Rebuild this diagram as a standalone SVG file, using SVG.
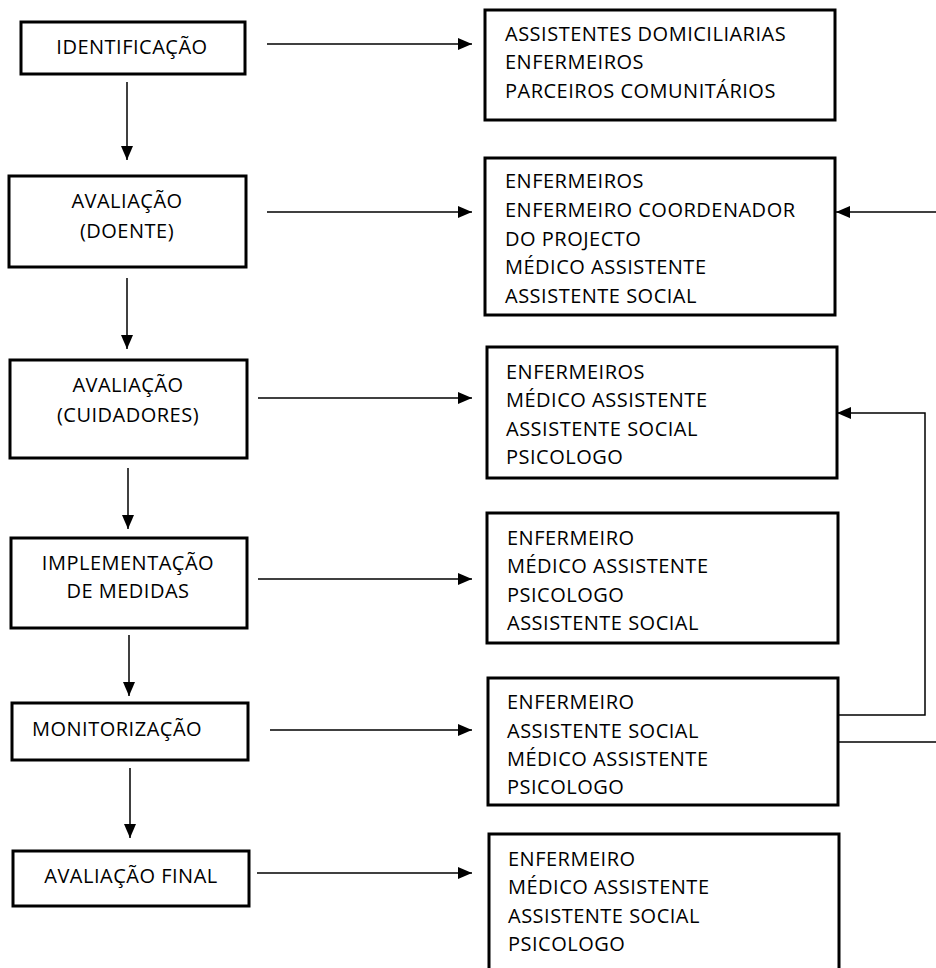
<svg xmlns="http://www.w3.org/2000/svg" width="936" height="968" viewBox="0 0 936 968">
<defs>
<marker id="ah" markerUnits="userSpaceOnUse" markerWidth="14" markerHeight="12" viewBox="0 0 14 12" refX="14" refY="6" orient="auto">
<path d="M0,0 L14,6 L0,12 Z" fill="#000"/>
</marker>
<style>
.box{fill:#fff;stroke:#000;stroke-width:3}
.t{font-family:"Open Sans",Lato,"Liberation Sans",sans-serif;font-size:20px;letter-spacing:0.5px;fill:#000}
.c{text-anchor:middle}
.con{fill:none;stroke:#000;stroke-width:1.5}
</style>
</defs>
<rect width="936" height="968" fill="#fff"/>

<g id="identificacao">
<rect class="box" x="21" y="22" width="224" height="52"/>
<text class="t c" x="132" y="54">IDENTIFICAÇÃO</text>
</g>
<g id="avaliacao-doente">
<rect class="box" x="9" y="176" width="237" height="91"/>
<text class="t c" x="127" y="208">AVALIAÇÃO</text>
<text class="t c" x="127" y="238">(DOENTE)</text>
</g>
<g id="avaliacao-cuidadores">
<rect class="box" x="10" y="360" width="237" height="98"/>
<text class="t c" x="128" y="392">AVALIAÇÃO</text>
<text class="t c" x="128" y="422">(CUIDADORES)</text>
</g>
<g id="implementacao">
<rect class="box" x="11" y="538" width="236" height="90"/>
<text class="t c" x="128" y="570">IMPLEMENTAÇÃO</text>
<text class="t c" x="128" y="598">DE MEDIDAS</text>
</g>
<g id="monitorizacao">
<rect class="box" x="12" y="703" width="236" height="57"/>
<text class="t" x="32" y="736">MONITORIZAÇÃO</text>
</g>
<g id="avaliacao-final">
<rect class="box" x="13" y="851" width="236" height="55"/>
<text class="t c" x="131" y="883">AVALIAÇÃO FINAL</text>
</g>

<g id="r1">
<rect class="box" x="485" y="10" width="350" height="110"/>
<text class="t" x="505" y="41">ASSISTENTES DOMICILIARIAS</text>
<text class="t" x="505" y="69">ENFERMEIROS</text>
<text class="t" x="505" y="98">PARCEIROS COMUNITÁRIOS</text>
</g>
<g id="r2">
<rect class="box" x="485" y="158" width="350" height="157"/>
<text class="t" x="505" y="188">ENFERMEIROS</text>
<text class="t" x="505" y="217">ENFERMEIRO COORDENADOR</text>
<text class="t" x="505" y="246">DO PROJECTO</text>
<text class="t" x="505" y="274">MÉDICO ASSISTENTE</text>
<text class="t" x="505" y="303">ASSISTENTE SOCIAL</text>
</g>
<g id="r3">
<rect class="box" x="487" y="347" width="350" height="131"/>
<text class="t" x="506" y="379">ENFERMEIROS</text>
<text class="t" x="506" y="407">MÉDICO ASSISTENTE</text>
<text class="t" x="506" y="436">ASSISTENTE SOCIAL</text>
<text class="t" x="506" y="464">PSICOLOGO</text>
</g>
<g id="r4">
<rect class="box" x="487" y="513" width="351" height="130"/>
<text class="t" x="507" y="545">ENFERMEIRO</text>
<text class="t" x="507" y="573">MÉDICO ASSISTENTE</text>
<text class="t" x="507" y="602">PSICOLOGO</text>
<text class="t" x="507" y="630">ASSISTENTE SOCIAL</text>
</g>
<g id="r5">
<rect class="box" x="488" y="678" width="350" height="127"/>
<text class="t" x="507" y="709">ENFERMEIRO</text>
<text class="t" x="507" y="738">ASSISTENTE SOCIAL</text>
<text class="t" x="507" y="766">MÉDICO ASSISTENTE</text>
<text class="t" x="507" y="794">PSICOLOGO</text>
</g>
<g id="r6">
<rect class="box" x="489" y="834" width="350" height="145"/>
<text class="t" x="508" y="866">ENFERMEIRO</text>
<text class="t" x="508" y="894">MÉDICO ASSISTENTE</text>
<text class="t" x="508" y="923">ASSISTENTE SOCIAL</text>
<text class="t" x="508" y="951">PSICOLOGO</text>
</g>

<g id="connectors">
<line class="con" x1="267" y1="44" x2="472" y2="44" marker-end="url(#ah)"/>
<line class="con" x1="267" y1="212" x2="472" y2="212" marker-end="url(#ah)"/>
<line class="con" x1="258" y1="398" x2="472" y2="398" marker-end="url(#ah)"/>
<line class="con" x1="258" y1="579" x2="472" y2="579" marker-end="url(#ah)"/>
<line class="con" x1="270" y1="730" x2="472" y2="730" marker-end="url(#ah)"/>
<line class="con" x1="257" y1="873" x2="472" y2="873" marker-end="url(#ah)"/>
<line class="con" x1="127" y1="82" x2="127" y2="160" marker-end="url(#ah)"/>
<line class="con" x1="127" y1="278" x2="127" y2="349" marker-end="url(#ah)"/>
<line class="con" x1="128" y1="468" x2="128" y2="529" marker-end="url(#ah)"/>
<line class="con" x1="129" y1="635" x2="129" y2="696" marker-end="url(#ah)"/>
<line class="con" x1="130" y1="768" x2="130" y2="838" marker-end="url(#ah)"/>
<polyline class="con" points="838,715 925,715 925,413 837,413" marker-end="url(#ah)"/>
<line class="con" x1="838" y1="742" x2="936" y2="742"/>
<line class="con" x1="936" y1="212" x2="836" y2="212" marker-end="url(#ah)"/>
</g>
</svg>
